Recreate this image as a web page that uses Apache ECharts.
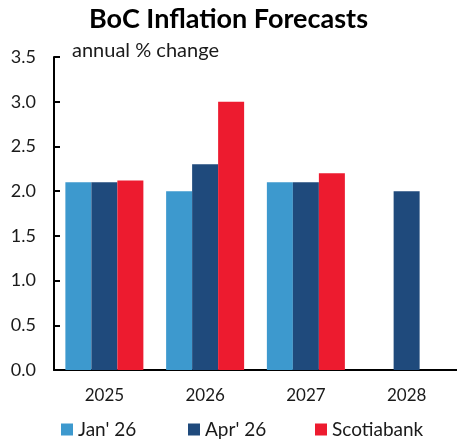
<!DOCTYPE html>
<html>
<head>
<meta charset="utf-8">
<script src="https://cdn.jsdelivr.net/npm/echarts@6/dist/echarts.min.js"></script>
<style>
  html, body { margin: 0; padding: 0; background: #fff; }
  #chart { width: 457px; height: 442px; }
</style>
</head>
<body>
<div id="chart"></div>
<script>
// BoC inflation forecasts, annual % change
const years = ['2025', '2026', '2027', '2028'];
const seriesNames = ['Jan\' 26', 'Apr\' 26', 'Scotiabank'];
const jan26 = [2.1, 2.0, 2.1, null];
const apr26 = [2.1, 2.3, 2.1, 2.0];
const scotiabank = [2.12, 3.0, 2.2, null];

const font = 'Lato, "Open Sans", sans-serif';
const textColor = '#1a1a1a';
const colors = ['#3D99CE', '#1F4A7C', '#ED1B2F'];
const legendLeft = [56, 183, 310];

const myChart = echarts.init(document.getElementById('chart'));
const option = {
    animation: false,
    color: colors,
    title: {
        text: 'BoC Inflation Forecasts',
        left: 'center',
        top: 1,
        textStyle: { fontFamily: font, fontSize: 27, fontWeight: 'bold', color: '#000' }
    },
    graphic: [{
        type: 'text',
        left: 72,
        top: 41,
        style: { text: 'annual % change', font: '20px ' + font, fill: textColor }
    }],
    // one legend per item so the spacing matches
    legend: seriesNames.map((name, i) => ({
        data: [name],
        left: legendLeft[i],
        top: 415,
        itemWidth: 12,
        itemHeight: 12,
        itemGap: 0,
        icon: 'rect',
        textStyle: { fontFamily: font, fontSize: 19, color: textColor }
    })),
    grid: { left: 54, top: 57, width: 410, height: 313 },
    xAxis: {
        type: 'category',
        data: years,
        axisLine: { lineStyle: { color: '#000', width: 2 } },
        axisTick: { length: 5, lineStyle: { color: '#000', width: 2 } },
        axisLabel: { fontFamily: font, fontSize: 17, color: textColor, margin: 17 }
    },
    yAxis: {
        type: 'value',
        min: 0,
        max: 3.5,
        interval: 0.5,
        splitLine: { show: false },
        axisLine: { show: true, lineStyle: { color: '#000', width: 2 } },
        axisTick: { show: true, inside: true, length: 6, lineStyle: { color: '#000', width: 2 } },
        axisLabel: {
            fontFamily: font, fontSize: 18, color: textColor, margin: 18,
            formatter: v => v.toFixed(1)
        }
    },
    series: [
        { name: seriesNames[0], type: 'bar', data: jan26, barWidth: 26, barGap: '0%' },
        { name: seriesNames[1], type: 'bar', data: apr26, barWidth: 26, barGap: '0%' },
        { name: seriesNames[2], type: 'bar', data: scotiabank, barWidth: 26, barGap: '0%' }
    ]
};
myChart.setOption(option);
</script>
</body>
</html>
